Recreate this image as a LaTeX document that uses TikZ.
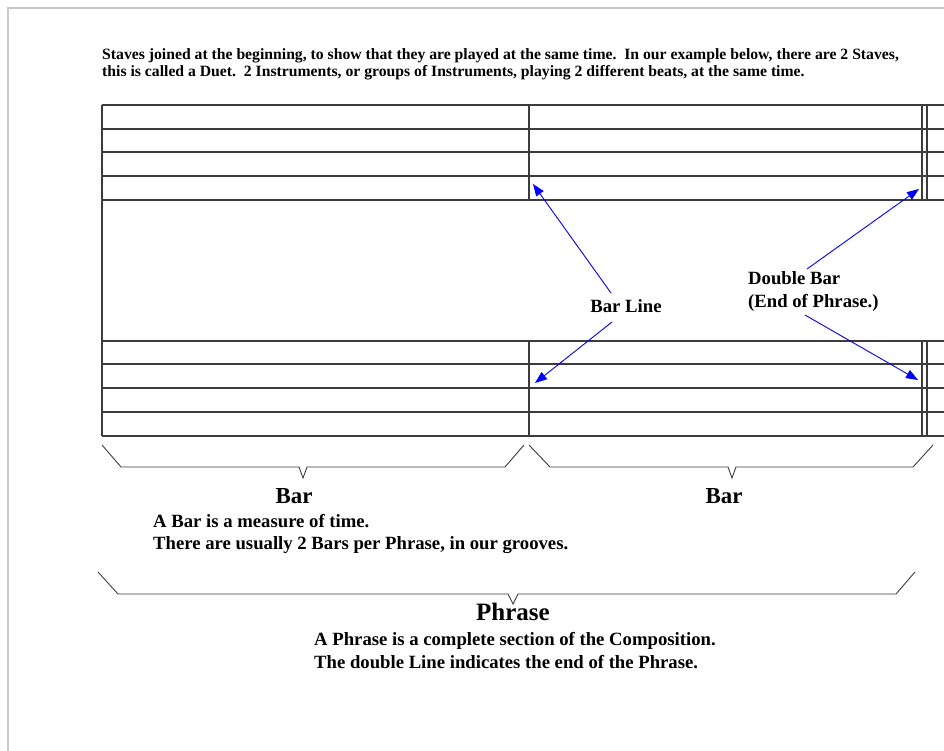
\documentclass[tikz,border=0pt]{standalone}
\usepackage{fontspec}
\setmainfont{Liberation Serif}
\usetikzlibrary{arrows.meta}
\definecolor{staffgray}{HTML}{3C3C3C}
\definecolor{pageline}{HTML}{C8C8C8}
\definecolor{arrowblue}{HTML}{0000FF}
\tikzset{
  staffline/.style={draw=staffgray, line width=1.2pt},
  bracestyle/.style={draw=staffgray, line width=0.9pt},
  pointer/.style={draw=arrowblue, line width=0.9pt, -{Triangle[length=12pt,width=9pt]}},
  note/.style={inner sep=0pt, font=\bfseries\fontsize{18.7}{22}\selectfont},
  heading/.style={inner sep=0pt, font=\bfseries\fontsize{22.9}{26}\selectfont},
  intro/.style={inner sep=0pt, font=\bfseries\fontsize{15.7}{18}\selectfont}
}
\begin{document}
\begin{tikzpicture}[x=1pt,y=-1pt]
\useasboundingbox (0,0) rectangle (944,751);
% page frame
\draw[pageline, line width=1.2pt] (8,751) -- (8,8) -- (944,8);

% intro text
\node[intro, anchor=base west] (intro1) at (102,60) {Staves joined at the beginning, to show that they are played at the same time.\ \ In our example below, there are 2 Staves,};
\node[intro, anchor=base west] (intro2) at (102,77) {this is called a Duet.\ \ 2 Instruments, or groups of Instruments, playing 2 different beats, at the same time.};

% staves
\foreach \y in {105,129,152,176,200,341,364,388,412,436}
  \draw[staffline] (102,\y) -- (944,\y);
\draw[staffline] (102,105) -- (102,436);
\foreach \x in {529,922,927} {
  \draw[staffline] (\x,105) -- (\x,200);
  \draw[staffline] (\x,341) -- (\x,436);
}

% labels
\node[note, anchor=base] (barline) at (626,312) {Bar Line};
\node[note, anchor=base west] (dbl1) at (748,284) {Double Bar};
\node[note, anchor=base west] (dbl2) at (748,307) {(End of Phrase.)};

% arrow end points
\coordinate (t1) at (611,293);
\coordinate (h1) at (533,184);
\coordinate (t2) at (612,322);
\coordinate (h2) at (535,383);
\coordinate (t3) at (807,269);
\coordinate (h3) at (919,189);
\coordinate (t4) at (805,315);
\coordinate (h4) at (918,380);
\draw[pointer] (t1) -- (h1);
\draw[pointer] (t2) -- (h2);
\draw[pointer] (t3) -- (h3);
\draw[pointer] (t4) -- (h4);

% braces
\draw[bracestyle] (102,445) -- (121,467) -- (299,467) -- (303,478) -- (307,467) -- (505,467) -- (524,445);
\draw[bracestyle] (529,445) -- (550,467) -- (728,467) -- (732,478) -- (736,467) -- (913,467) -- (933,445);
\draw[bracestyle] (98,572) -- (118,594) -- (508,594) -- (513,604) -- (518,594) -- (896,594) -- (915,572);

% bar texts
\node[heading, anchor=base] (bar1) at (294,503) {Bar};
\node[heading, anchor=base] (bar2) at (724,503) {Bar};
\node[note, anchor=base west] (bardesc1) at (153,527) {A Bar is a measure of time.};
\node[note, anchor=base west] (bardesc2) at (153,549) {There are usually 2 Bars per Phrase, in our grooves.};

% phrase texts
\node[heading, anchor=base, font=\bfseries\fontsize{25}{28}\selectfont] (phrase) at (513,620) {Phrase};
\node[note, anchor=base west] (phdesc1) at (314,645) {A Phrase is a complete section of the Composition.};
\node[note, anchor=base west] (phdesc2) at (314,668) {The double Line indicates the end of the Phrase.};
\end{tikzpicture}
\end{document}
